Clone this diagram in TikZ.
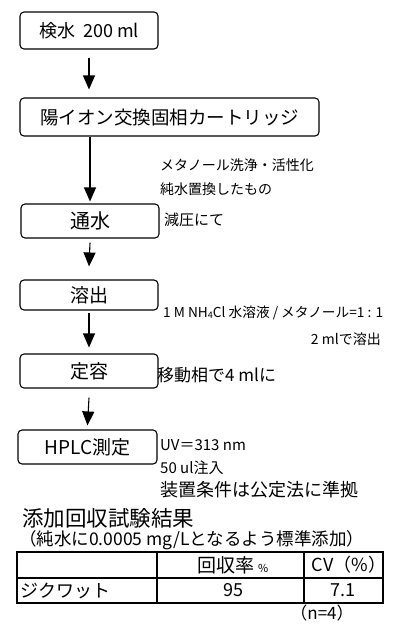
\documentclass[tikz,border=0pt]{standalone}
\usepackage{fontspec}
\setmainfont{Noto Sans CJK JP}
\usetikzlibrary{arrows.meta}
\newcommand{\fs}[1]{\fontsize{#1}{#1}\selectfont}
\tikzset{
  stepbox/.style={draw, line width=1.1pt, rounded corners=4pt, inner sep=0pt, align=center},
  arr/.style={line width=1.1pt, -{Triangle[width=12pt,length=14pt]}},
  note/.style={anchor=west, inner sep=0pt},
  cell/.style={inner sep=0pt},
  grid/.style={line width=1.8pt}
}
\begin{document}
\begin{tikzpicture}[x=1pt,y=-1pt]
\useasboundingbox (0,0) rectangle (405,626);
% boxes
\node[stepbox, minimum width=138pt, minimum height=37pt] (b1) at (89,30.5) {\fs{18}検水\hspace{8pt}200 ml};
\node[stepbox, minimum width=299pt, minimum height=38pt] (b2) at (169.5,117) {\fs{18.5}陽イオン交換固相カートリッジ};
\node[stepbox, minimum width=138pt, minimum height=34pt] (b3) at (90,221) {\fs{20}通水};
\node[stepbox, minimum width=138pt, minimum height=30pt] (b4) at (89,295) {\fs{19}溶出};
\node[stepbox, minimum width=138pt, minimum height=34pt] (b5) at (89,371) {\fs{19}定容};
\node[stepbox, minimum width=139pt, minimum height=34pt] (b6) at (87.5,447) {\fs{19}HPLC測定};
% arrows
\draw[arr] ([yshift=-8pt]b1.south) -- ([yshift=8pt]b2.north -| b1.south);
\draw[arr] (b3.north |- b2.south) -- ([yshift=2pt]b3.north);
\draw[arr] ([yshift=-4pt]b3.south) -- ([yshift=13pt]b4.north);
\draw[arr] ([yshift=-2pt]b4.south) -- ([yshift=6pt]b5.north);
\draw[arr] ([yshift=-9pt]b5.south) -- ([yshift=4pt]b6.north);
% notes
\node[note] (n1) at (160,165) {\fs{14}メタノール洗浄・活性化};
\node[note] (n2) at (160,189) {\fs{14}純水置換したもの};
\node[note] (n3) at (164,220) {\fs{15}減圧にて};
\node[note] (n4) at (163,313) {\fs{13.7}1 M NH\raisebox{-0.5pt}{\fs{9}4}Cl 水溶液 / メタノール=1 : 1};
\node[anchor=east, inner sep=0pt] (n5) at (381,339) {\fs{14}2 mlで溶出};
\node[note] (n6) at (157,375) {\fs{17}移動相で4 mlに};
\node[note] (n7) at (160,445) {\fs{15}UV＝313 nm};
\node[note] (n8) at (160,468) {\fs{15}50 ul注入};
\node[note] (n9) at (160,490) {\fs{18}装置条件は公定法に準拠};
\node[note] (h1) at (22,518) {\fs{21.5}添加回収試験結果};
\node[note] (h2) at (19,540) {\fs{17.5}（純水に0.0005 mg/Lとなるよう標準添加）};
% table
\draw[grid] (17,552) rectangle (383,603);
\draw[grid] (17,578) -- (383,578);
\draw[grid] (157,552) -- (157,603);
\draw[grid] (304,552) -- (304,603);
\node[cell] (t1) at (233,565) {\fs{19}回収率\,{\fs{11}\%}};
\node[cell] (t2) at (349,565) {\fs{18}CV（\%）};
\node[cell, anchor=west] (t3) at (20,590.5) {\fs{18}ジクワット};
\node[cell] (t4) at (233,590.5) {\fs{18}95};
\node[cell] (t5) at (343,590.5) {\fs{18}7.1};
\node[cell] (t6) at (322,613) {\fs{17}（n=4）};
\end{tikzpicture}
\end{document}
